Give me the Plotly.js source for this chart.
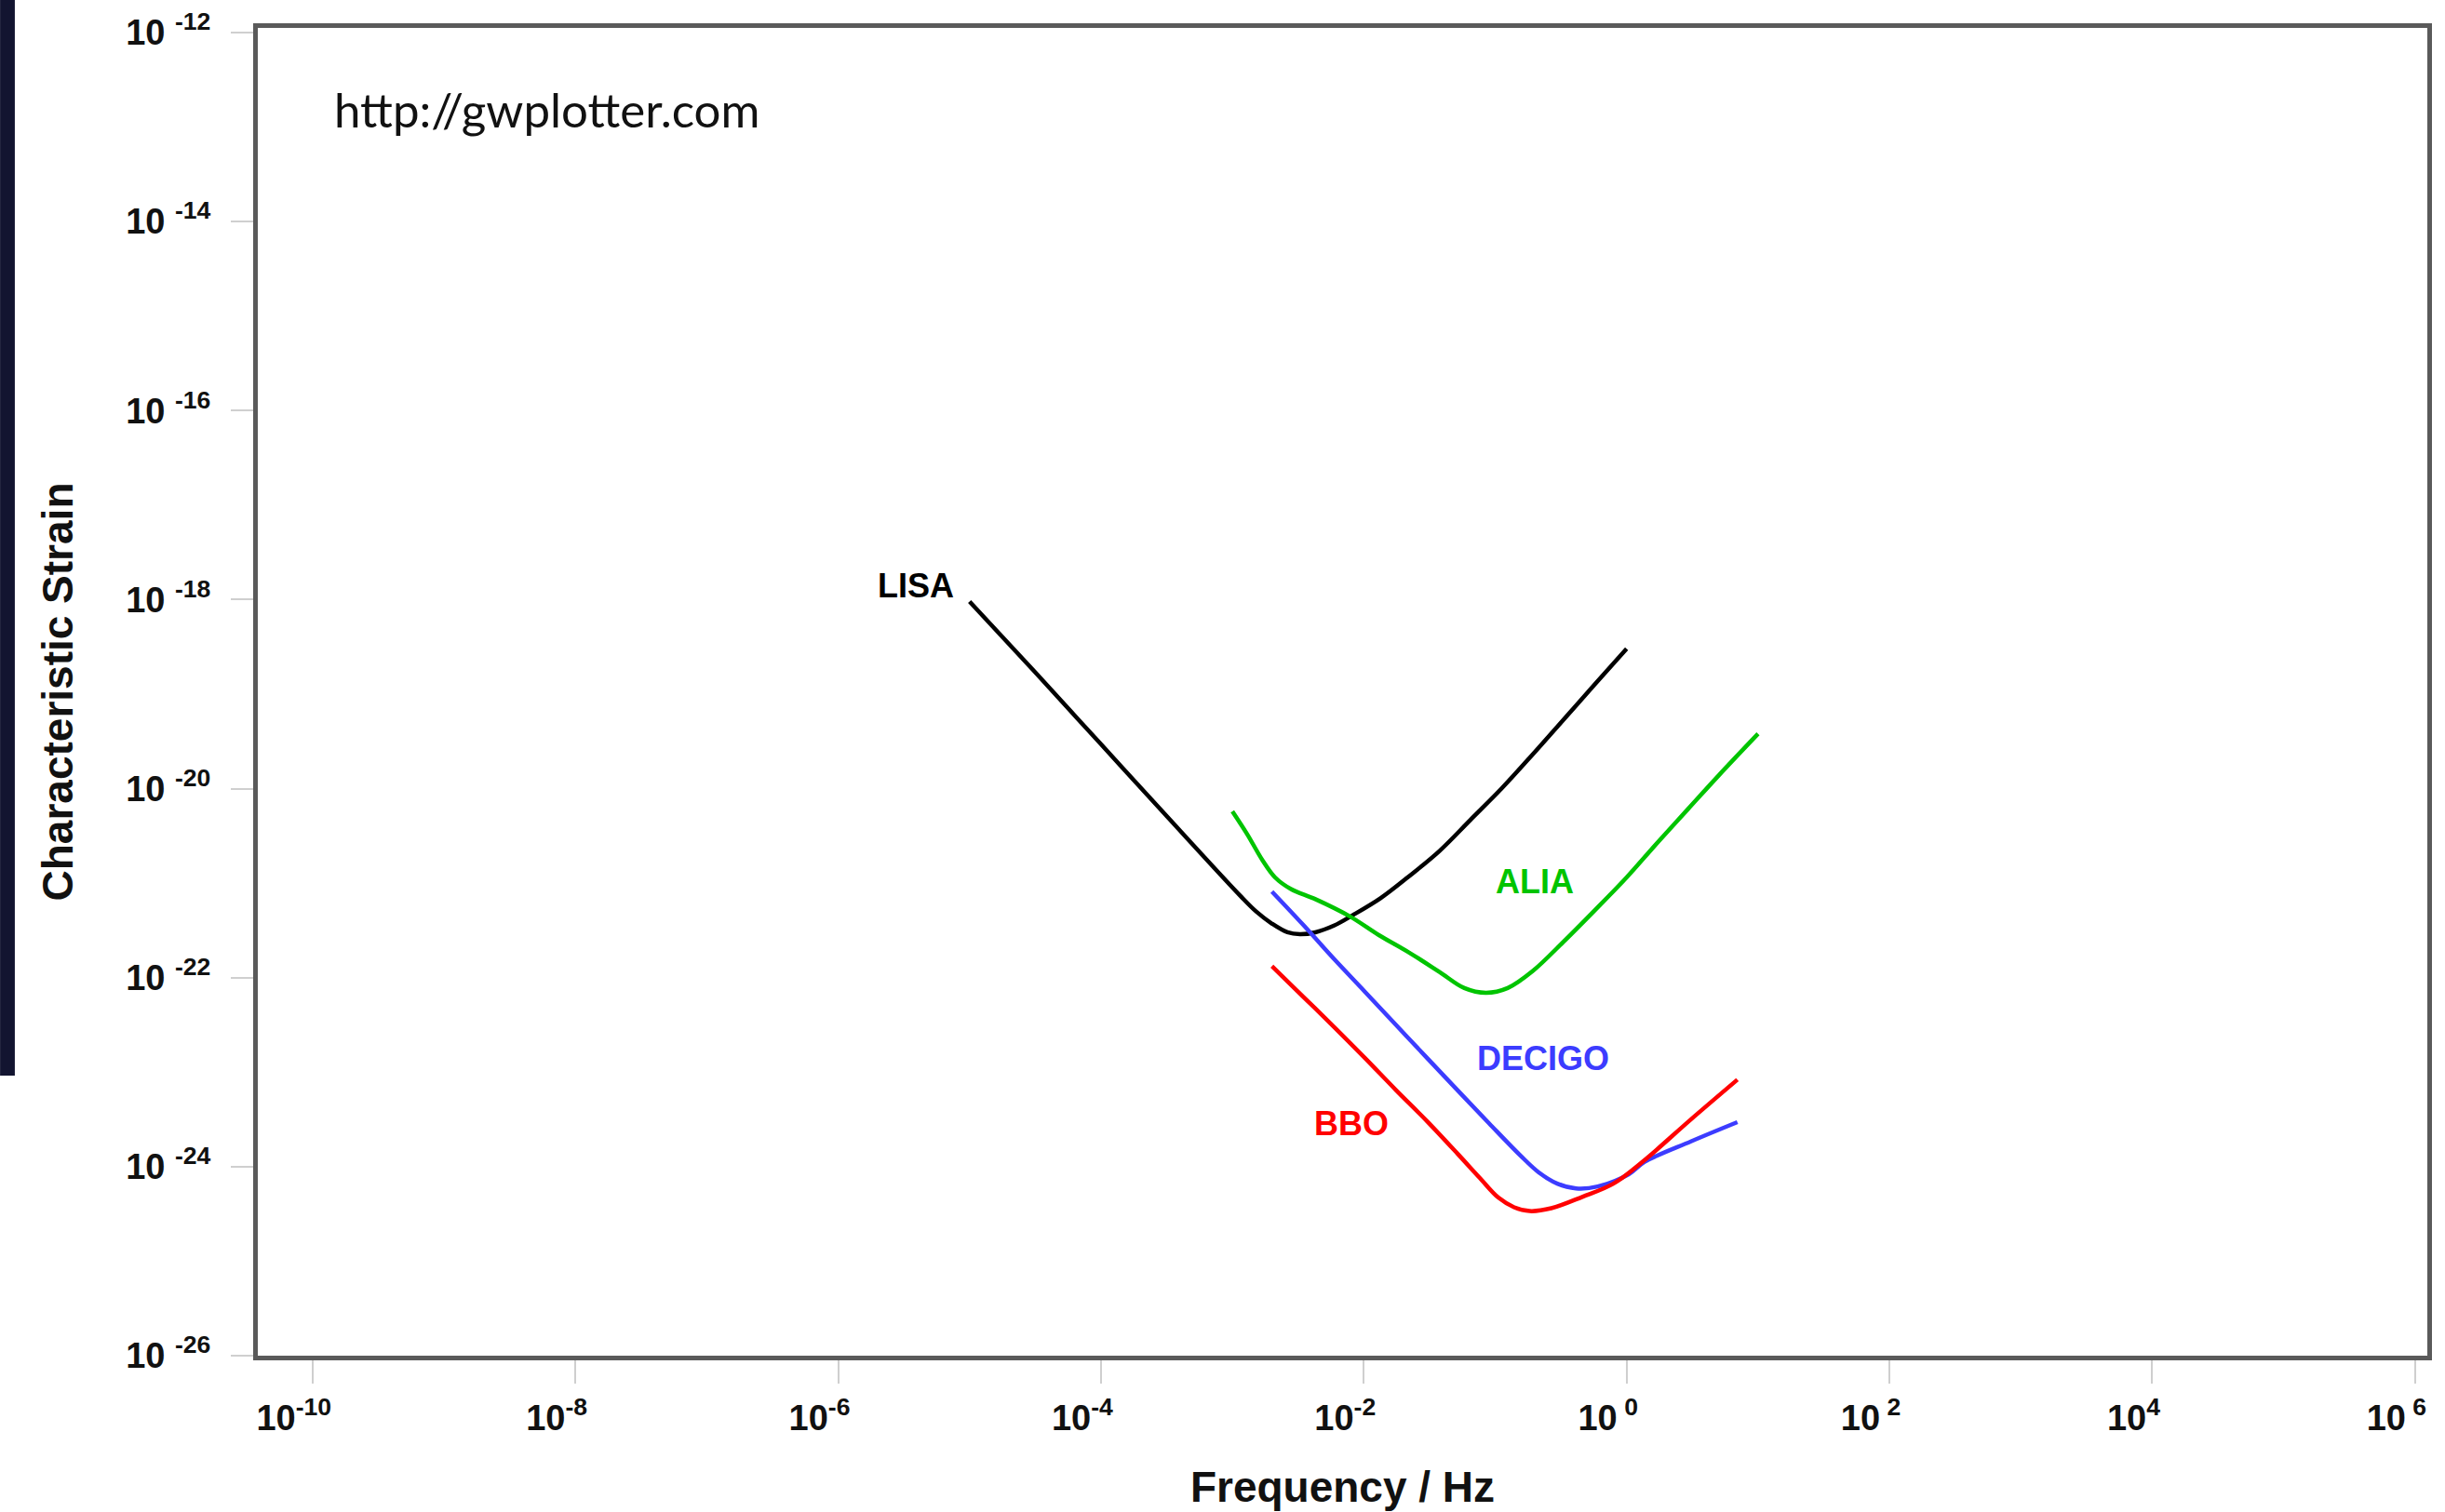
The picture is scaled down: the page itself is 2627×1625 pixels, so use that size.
<!DOCTYPE html>
<html>
<head>
<meta charset="utf-8">
<script src="https://cdn.plot.ly/plotly-3.0.1.min.js"></script>
<style>
  html, body { margin: 0; padding: 0; background: #ffffff; }
  #chart { width: 2627px; height: 1625px; }
</style>
</head>
<body>
<div id="chart"></div>
<script>
// ---- Data (frequency in Hz, characteristic strain) ----
const lisaF = [1.00e-5, 3.16e-5, 1.00e-4, 3.16e-4, 1.161e-3, 1.517e-3, 2.005e-3, 2.624e-3, 3.266e-3, 4.285e-3, 5.929e-3, 8.222e-3, 1.340e-2, 2.188e-2, 3.767e-2, 6.486e-2, 0.1117, 0.1923, 0.3311, 0.5702, 1.0];
const lisaH = [9.55e-19, 1.70e-19, 2.95e-20, 5.13e-21, 7.24e-22, 5.01e-22, 3.72e-22, 3.02e-22, 2.88e-22, 3.02e-22, 3.55e-22, 4.57e-22, 6.92e-22, 1.17e-21, 2.19e-21, 4.68e-21, 1.00e-20, 2.29e-20, 5.37e-20, 1.26e-19, 3.02e-19];

const aliaF = [1.00e-3, 1.294e-3, 1.698e-3, 2.113e-3, 2.773e-3, 4.285e-3, 7.780e-3, 1.303e-2, 2.188e-2, 3.767e-2, 5.821e-2, 8.511e-2, 0.1245, 0.1923, 0.3311, 0.5702, 1.0, 1.694, 2.917, 5.023, 10.0];
const aliaH = [5.75e-21, 3.31e-21, 1.74e-21, 1.15e-21, 8.71e-22, 6.76e-22, 4.47e-22, 2.82e-22, 1.86e-22, 1.15e-22, 7.76e-23, 6.92e-23, 7.76e-23, 1.17e-22, 2.40e-22, 5.13e-22, 1.15e-21, 2.63e-21, 6.03e-21, 1.38e-20, 3.80e-20];

const decigoF = [2.00e-3, 3.451e-3, 5.929e-3, 1.021e-2, 1.758e-2, 3.034e-2, 8.974e-2, 0.1549, 0.2143, 0.2972, 0.4121, 0.6026, 1.038, 1.365, 3.083, 6.966];
const decigoH = [8.13e-22, 3.63e-22, 1.58e-22, 7.08e-23, 3.16e-23, 1.41e-23, 2.88e-24, 1.32e-24, 8.71e-25, 6.61e-25, 5.89e-25, 6.17e-25, 8.32e-25, 1.12e-24, 1.85e-24, 2.96e-24];

const bboF = [2.00e-3, 3.451e-3, 5.929e-3, 1.021e-2, 1.758e-2, 3.034e-2, 5.224e-2, 7.638e-2, 0.1062, 0.1393, 0.1828, 0.2673, 0.4603, 0.7925, 1.365, 3.083, 6.966];
const bboH = [1.32e-22, 6.31e-23, 3.02e-23, 1.41e-23, 6.46e-24, 3.02e-24, 1.35e-24, 7.59e-25, 4.68e-25, 3.72e-25, 3.39e-25, 3.63e-25, 4.79e-25, 6.61e-25, 1.17e-24, 3.16e-24, 8.32e-24];

const xTickVals = [1e-10, 1e-8, 1e-6, 1e-4, 1e-2, 1e0, 1e2, 1e4, 1e6];
const xTickText = ["10<sup>-10</sup>", "10<sup>-8</sup>", "10<sup>-6</sup>", "10<sup>-4</sup>", "10<sup>-2</sup>", "10<sup> 0</sup>", "10<sup> 2</sup>", "10<sup>4</sup>", "10<sup> 6</sup>"];
const yTickVals = [1e-26, 1e-24, 1e-22, 1e-20, 1e-18, 1e-16, 1e-14, 1e-12];
const yTickText = ["10 <sup>-26</sup>", "10 <sup>-24</sup>", "10 <sup>-22</sup>", "10 <sup>-20</sup>", "10 <sup>-18</sup>", "10 <sup>-16</sup>", "10 <sup>-14</sup>", "10 <sup>-12</sup>"];

const seriesNames = ["LISA", "ALIA", "DECIGO", "BBO"];
const seriesColors = ["#000000", "#00c400", "#3c3cff", "#ff0000"];
// label anchor positions (Hz, strain)
const labelF = [3.87e-6, 0.200, 0.231, 8.11e-3];
const labelH = [1.39e-18, 1.04e-21, 1.40e-23, 2.86e-24];

const SANS = "Liberation Sans, Arial, Helvetica, sans-serif";

const xs = [lisaF, aliaF, decigoF, bboF];
const ys = [lisaH, aliaH, decigoH, bboH];

const traces = seriesNames.map((n, i) => ({
  type: "scatter",
  mode: "lines",
  name: n,
  x: xs[i],
  y: ys[i],
  line: { color: seriesColors[i], width: 4.5, shape: "spline", smoothing: 1.0 },
  hoverinfo: "skip"
}));

const annotations = seriesNames.map((n, i) => ({
  x: Math.log10(labelF[i]),
  y: Math.log10(labelH[i]),
  xref: "x", yref: "y",
  text: n,
  showarrow: false,
  xanchor: "center", yanchor: "middle",
  font: { family: SANS, size: 36, color: seriesColors[i], weight: "bold" }
}));

annotations.push({
  x: 0.0343, y: 0.939, xref: "paper", yref: "paper",
  text: "http://gwplotter.com",
  showarrow: false, xanchor: "left", yanchor: "middle",
  font: { family: "Lato, 'Open Sans', sans-serif", size: 51, color: "#111111" }
});

const layout = {
  width: 2627,
  height: 1625,
  margin: { l: 277, r: 19, t: 30, b: 168, pad: 0 },
  paper_bgcolor: "#ffffff",
  plot_bgcolor: "#ffffff",
  showlegend: false,
  xaxis: {
    type: "log",
    range: [-10.416, 6.093],
    tickmode: "array",
    tickvals: xTickVals,
    ticktext: xTickText,
    ticks: "outside",
    ticklen: 25,
    tickwidth: 2,
    tickcolor: "#cfcfcf",
    ticklabelshift: -20,
    ticklabelstandoff: 4,
    tickfont: { family: SANS, size: 38, color: "#111111", weight: "bold" },
    showgrid: false,
    zeroline: false,
    showline: true,
    mirror: true,
    linecolor: "#5a5a5a",
    linewidth: 5,
    title: { text: "Frequency / Hz", standoff: 40,
             font: { family: SANS, size: 46, color: "#111111", weight: "bold" } }
  },
  yaxis: {
    type: "log",
    range: [-26.0, -11.951],
    tickmode: "array",
    tickvals: yTickVals,
    ticktext: yTickText,
    ticks: "outside",
    ticklen: 24,
    tickwidth: 2,
    tickcolor: "#cfcfcf",
    ticklabelstandoff: 14,
    tickfont: { family: SANS, size: 38, color: "#111111", weight: "bold" },
    showgrid: false,
    zeroline: false,
    showline: true,
    mirror: true,
    linecolor: "#5a5a5a",
    linewidth: 5,
    title: { text: "Characteristic Strain", standoff: 44,
             font: { family: SANS, size: 46, color: "#111111", weight: "bold" } }
  },
  annotations: annotations,
  shapes: [{
    type: "rect", xref: "paper", yref: "paper",
    x0: -0.1188, x1: -0.1120, y0: 0.2109, y1: 1.0211,
    fillcolor: "#121430", line: { width: 0 }, layer: "above"
  }]
};

Plotly.newPlot("chart", traces, layout, { staticPlot: true, displayModeBar: false });
</script>
</body>
</html>
